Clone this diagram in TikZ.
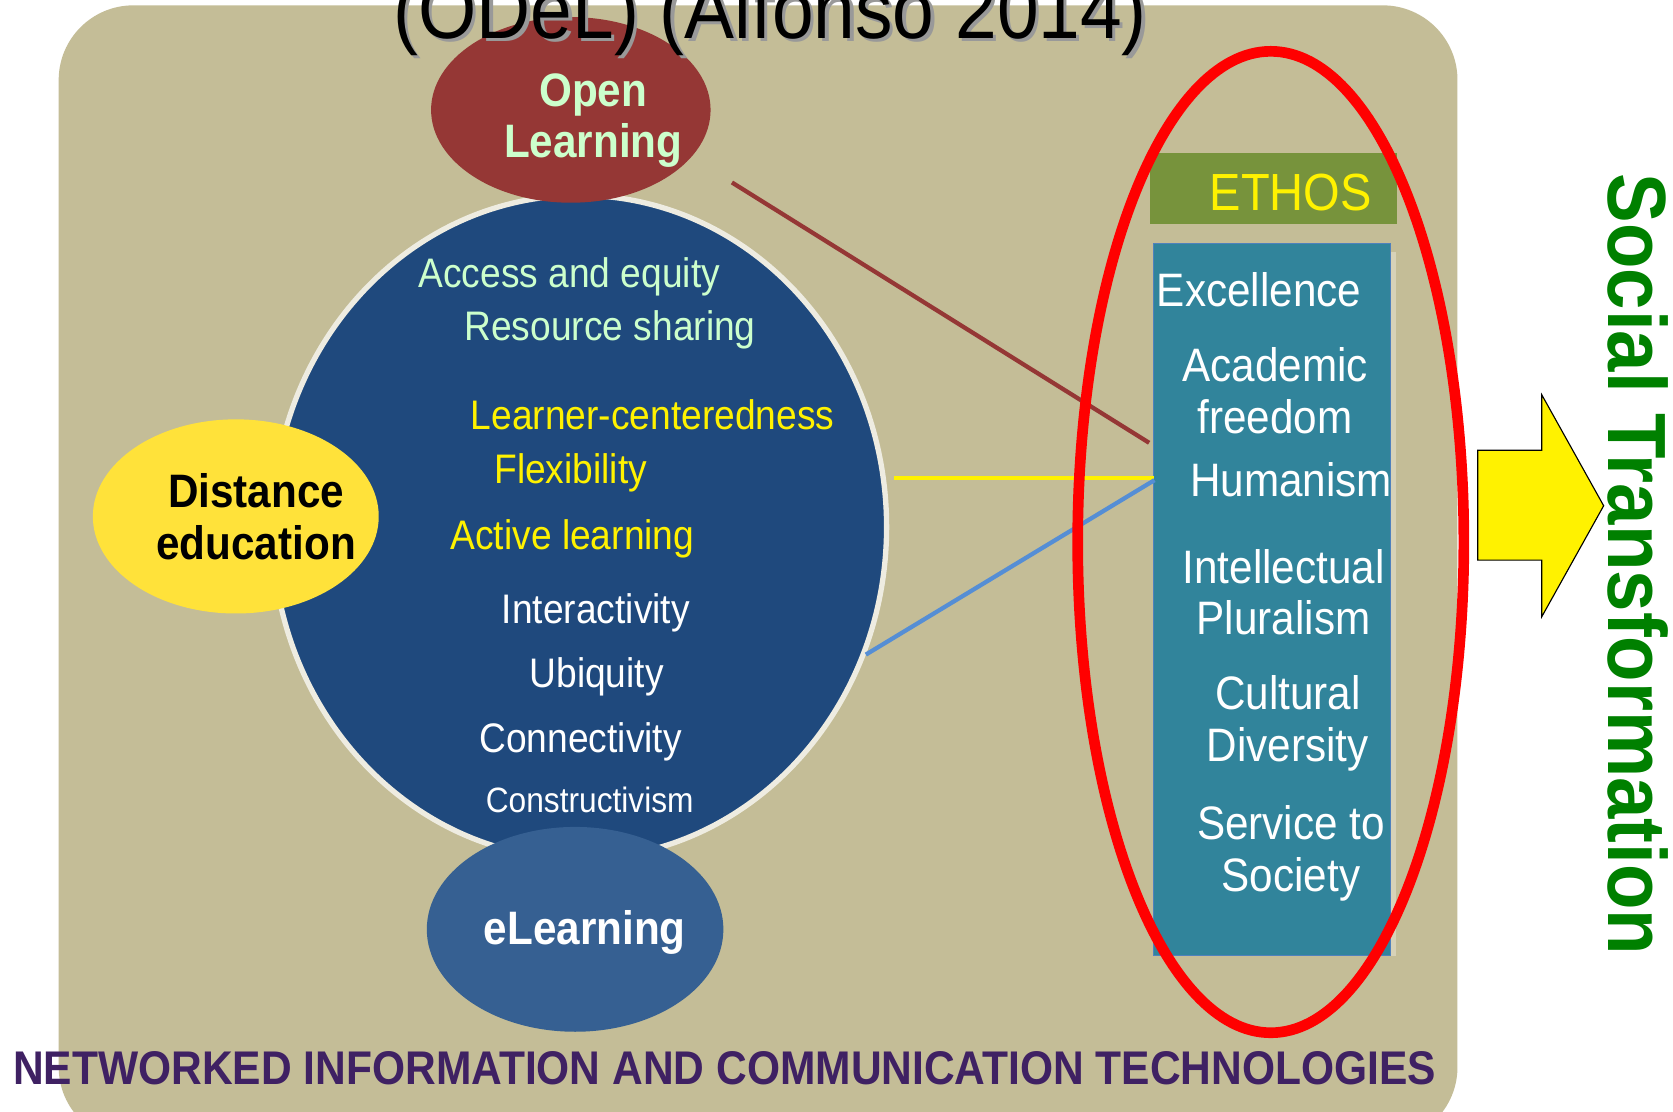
\documentclass[tikz,border=0pt]{standalone}
\usepackage{fontspec}
\setmainfont[FakeStretch=0.9]{Liberation Sans}
\usetikzlibrary{shapes.geometric}
\definecolor{beige}{RGB}{196,189,151}
\definecolor{navy}{RGB}{31,73,125}
\definecolor{rim}{RGB}{238,236,225}
\definecolor{brick}{RGB}{149,55,53}
\definecolor{gold}{RGB}{255,226,58}
\definecolor{midblue}{RGB}{54,96,146}
\definecolor{mint}{RGB}{204,255,204}
\definecolor{olive}{RGB}{119,147,60}
\definecolor{teal2}{RGB}{49,132,155}
\definecolor{edgeblue}{RGB}{79,129,189}
\definecolor{skyline}{RGB}{85,142,213}
\definecolor{purp}{RGB}{63,33,99}
\definecolor{socgreen}{RGB}{0,128,0}
\newcommand\pxf[1]{\fontsize{\fpeval{#1*0.569}pt}{\fpeval{#1*0.569*1.1}pt}\selectfont}
\begin{document}
\begin{tikzpicture}[x=0.02cm,y=-0.02cm,
  blob/.style={ellipse, inner sep=0pt, draw=none},
  txt/.style={inner sep=0pt, text=#1},
  circtxt/.style={txt=#1, anchor=west, font=\pxf{38.7}},
  valtxt/.style={txt=white, align=center, font=\pxf{44}},
  link/.style={line width=0.08cm}]
\useasboundingbox (0,0) rectangle (1568,1042);
\clip (0,0) rectangle (1568,1042);
\fill[white] (0,0) rectangle (1568,1042);
% background panel
\fill[beige, rounded corners=1.4cm] (55,5) rectangle (1366,1070);

% core circle and satellite ellipses
\node[blob, fill=navy, draw=rim, line width=0.1cm, minimum width=11.52cm, minimum height=12.44cm] (core) at (543,494) {};
\node[blob, fill=gold, minimum width=5.36cm, minimum height=3.64cm] (dist) at (221,484) {};
\node[blob, fill=brick, minimum width=5.24cm, minimum height=3.48cm] (open) at (535,103) {};
\node[blob, fill=midblue, minimum width=5.56cm, minimum height=3.84cm] (elearn) at (539,871) {};

% ethos boxes
\fill[rim!45!beige] (1088,236) rectangle (1308,896);
\node[draw=edgeblue, line width=0.02cm, fill=teal2, minimum width=4.44cm, minimum height=13.36cm, inner sep=0pt] (valbox) at (1192,562) {};
\node[fill=olive, minimum width=4.62cm, minimum height=1.34cm, inner sep=0pt] (ethos) at (1193.5,176.5) {};
\node[txt=yellow, anchor=east, font=\pxf{49}] (ethostxt) at (1286,180) {ETHOS};

% connectors
\coordinate (redstart) at (686,171);
\coordinate (redend) at (1077,415);
\coordinate (yelend) at (1082,448);
\coordinate (yelstart) at (838,448);
\coordinate (bluend) at (1082,450);
\draw[link, brick] (redstart) -- (redend);
\draw[link, yellow] (yelstart) -- (yelend);
\draw[link, skyline] (core.-24.6) -- (bluend);

% red ellipse
\node[ellipse, draw=red, line width=0.2cm, minimum width=7.24cm, minimum height=18.4cm, inner sep=0pt] (ring) at (1191,508) {};

% arrow
\draw[fill=yellow, draw=black, line width=0.6pt] (1385,422) -- (1445,422) -- (1445,370) -- (1503,474) -- (1445,578) -- (1445,525) -- (1385,525) -- cycle;

% ellipse labels
\node[txt=mint, align=center, font=\bfseries\pxf{44}] (opentxt) at (556,113) {Open\\Learning};
\node[txt=black, align=center, font=\bfseries\pxf{44}] (disttxt) at (240,484) {Distance\\education};
\node[txt=white, font=\bfseries\pxf{44}] (elearntxt) at (548,874) {eLearning};

% circle texts
\node[circtxt=mint] (t1) at (392,259) {Access and equity};
\node[circtxt=mint] (t2) at (435,309) {Resource sharing};
\node[circtxt=yellow] (t3) at (441,389) {Learner-centeredness};
\node[circtxt=yellow] (t4) at (463,443) {Flexibility};
\node[circtxt=yellow] (t5) at (422,505) {Active learning};
\node[circtxt=white] (t6) at (470,574) {Interactivity};
\node[circtxt=white] (t7) at (496,634) {Ubiquity};
\node[circtxt=white] (t8) at (449,695) {Connectivity};
\node[circtxt=white, font=\pxf{33}] (t9) at (455,750) {Constructivism};

% value texts
\node[txt=white, anchor=west, font=\pxf{44}] (v1) at (1084,272) {Excellence};
\node[valtxt] (v2) at (1195,366) {Academic\\freedom};
\node[txt=white, anchor=west, font=\pxf{44}] (v3) at (1115,450) {Humanism};
\node[valtxt] (v4) at (1203,555) {Intellectual\\Pluralism};
\node[valtxt] (v5) at (1207,678) {Cultural\\Diversity};
\node[valtxt] (v6) at (1210,800) {Service to\\Society};

% side and bottom texts
\node[txt=socgreen, rotate=-90, font=\bfseries\pxf{77.5}] (social) at (1535,529) {Social Transformation};
\node[txt=purp, anchor=west, font=\bfseries\pxf{44.3}] (nict) at (12,1001) {NETWORKED INFORMATION AND COMMUNICATION TECHNOLOGIES};

% title (cut at top)
\node[txt=black!40, anchor=base, font=\pxf{78}] (titleshadow) at (725,39) {(ODeL) (Alfonso 2014)};
\node[txt=black, anchor=base, font=\pxf{78}] (title) at (722,36) {(ODeL) (Alfonso 2014)};
\end{tikzpicture}
\end{document}
